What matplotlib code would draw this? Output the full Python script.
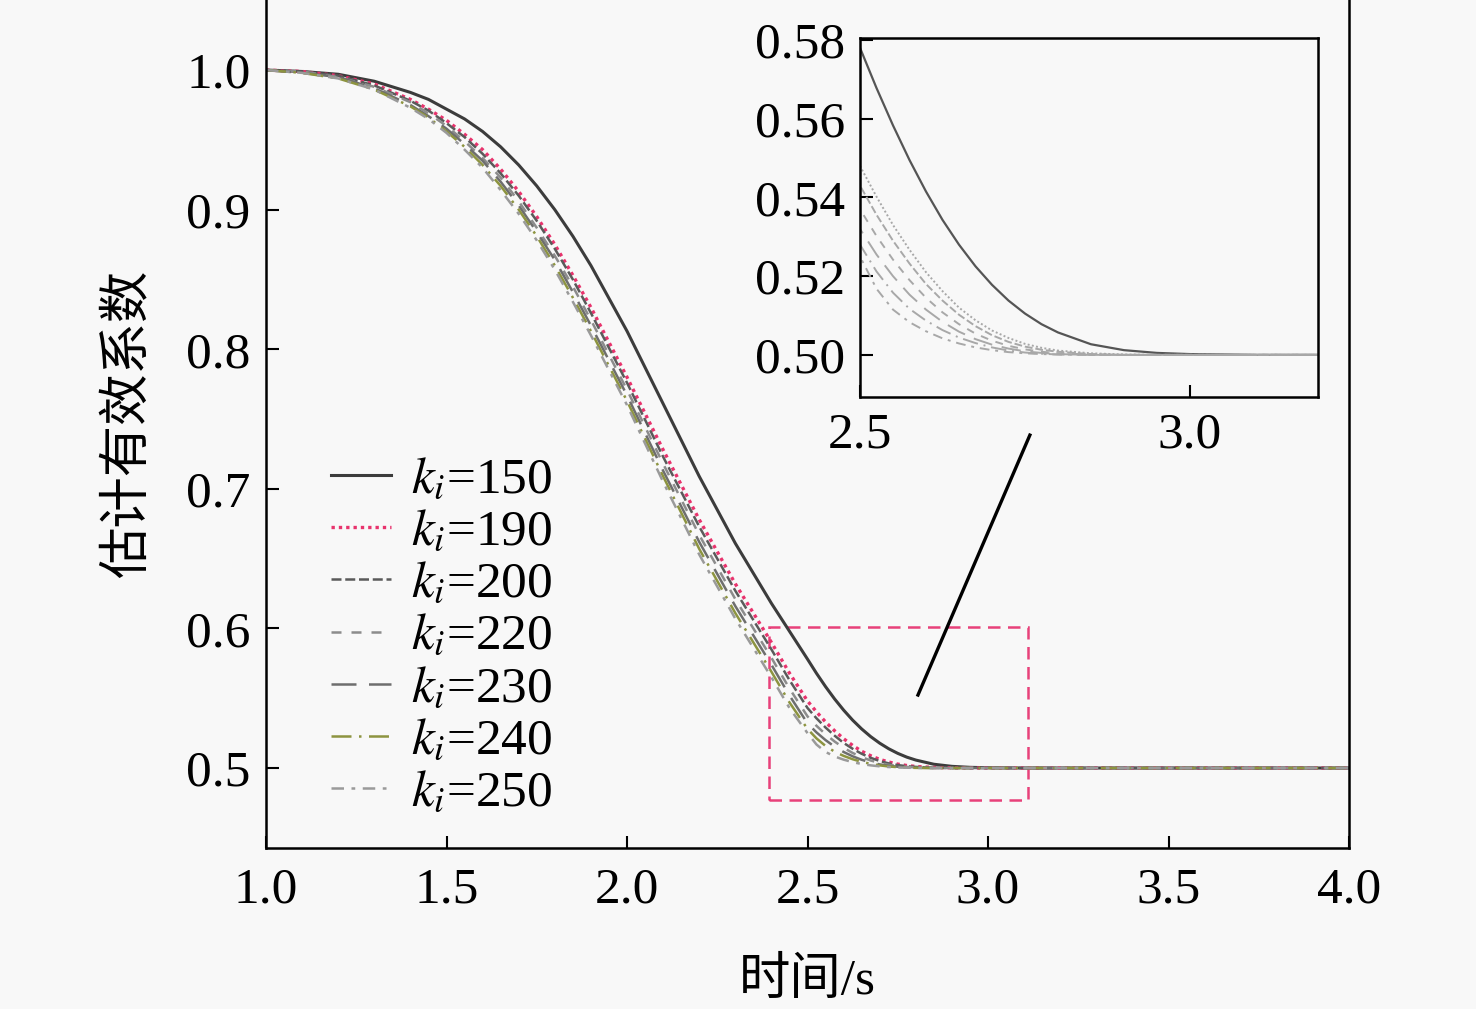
import numpy as np
import matplotlib
matplotlib.use("Agg")
import matplotlib.pyplot as plt
from matplotlib.patches import Rectangle

plt.rcParams['font.family'] = ['Liberation Serif', 'Noto Sans CJK SC']
plt.rcParams['mathtext.fontset'] = 'stix'

# time axis (s) and estimated coefficient for each k_i
t = [1.0, 1.1, 1.2, 1.3, 1.4, 1.45, 1.5, 1.55, 1.6, 1.65, 1.7, 1.75, 1.8, 1.85, 1.9,
     2.0, 2.1, 2.2, 2.3, 2.4, 2.45,
     2.5, 2.525, 2.55, 2.575, 2.6, 2.625, 2.65, 2.675, 2.7, 2.725, 2.75, 2.775, 2.8,
     2.85, 2.9, 2.95, 3.0, 3.1, 3.2, 4.0]

k150 = [1.000, 0.999, 0.997, 0.992, 0.984, 0.979, 0.972, 0.965, 0.956, 0.945, 0.932,
        0.917, 0.900, 0.881, 0.860,
        0.813, 0.761, 0.709, 0.661, 0.618, 0.598,
        0.578, 0.5678, 0.5583, 0.5495, 0.5415, 0.5343, 0.5280, 0.5225, 0.5178, 0.5138,
        0.5105, 0.5078, 0.5057, 0.5027, 0.5012, 0.5005, 0.5002, 0.5, 0.5, 0.5]
k190 = [1.000, 0.999, 0.996, 0.990, 0.979, 0.972, 0.964, 0.954, 0.943, 0.929, 0.913,
        0.895, 0.875, 0.853, 0.830,
        0.780, 0.728, 0.678, 0.632, 0.590, 0.568,
        0.548, 0.5402, 0.533, 0.5267, 0.521, 0.5162, 0.512, 0.5088, 0.5062, 0.5043,
        0.5028, 0.5018, 0.5011, 0.5004, 0.5001, 0.5, 0.5, 0.5, 0.5, 0.5]
k200 = [1.000, 0.999, 0.996, 0.989, 0.978, 0.971, 0.962, 0.952, 0.940, 0.926, 0.910,
        0.892, 0.872, 0.850, 0.826,
        0.776, 0.723, 0.673, 0.627, 0.585, 0.563,
        0.543, 0.5356, 0.529, 0.5232, 0.518, 0.5138, 0.5102, 0.5073, 0.505, 0.5033,
        0.5021, 0.5013, 0.5008, 0.5002, 0.5, 0.5, 0.5, 0.5, 0.5, 0.5]
k220 = [1.000, 0.999, 0.995, 0.988, 0.977, 0.969, 0.960, 0.949, 0.937, 0.923, 0.906,
        0.887, 0.867, 0.845, 0.821,
        0.771, 0.718, 0.667, 0.621, 0.579, 0.557,
        0.537, 0.5302, 0.5242, 0.519, 0.5145, 0.5108, 0.5078, 0.5054, 0.5036, 0.5023,
        0.5014, 0.5008, 0.5004, 0.5001, 0.5, 0.5, 0.5, 0.5, 0.5, 0.5]
k230 = [1.000, 0.998, 0.995, 0.987, 0.975, 0.967, 0.958, 0.947, 0.935, 0.920, 0.903,
        0.884, 0.864, 0.841, 0.817,
        0.767, 0.713, 0.662, 0.616, 0.574, 0.552,
        0.532, 0.5255, 0.520, 0.5153, 0.5115, 0.5084, 0.5059, 0.504, 0.5026, 0.5016,
        0.5009, 0.5005, 0.5002, 0.5, 0.5, 0.5, 0.5, 0.5, 0.5, 0.5]
k240 = [1.000, 0.998, 0.994, 0.986, 0.974, 0.966, 0.956, 0.945, 0.932, 0.917, 0.900,
        0.881, 0.860, 0.837, 0.813,
        0.763, 0.709, 0.657, 0.611, 0.569, 0.547,
        0.528, 0.5212, 0.5158, 0.5117, 0.5087, 0.5063, 0.5044, 0.503, 0.5019, 0.5011,
        0.5006, 0.5003, 0.5001, 0.5, 0.5, 0.5, 0.5, 0.5, 0.5, 0.5]
k250 = [1.000, 0.998, 0.994, 0.986, 0.973, 0.965, 0.955, 0.943, 0.930, 0.914, 0.897,
        0.878, 0.857, 0.834, 0.810,
        0.760, 0.705, 0.653, 0.607, 0.565, 0.543,
        0.525, 0.5168, 0.5115, 0.5083, 0.506, 0.5042, 0.5029, 0.5019, 0.5012, 0.5007,
        0.5004, 0.5002, 0.5001, 0.5, 0.5, 0.5, 0.5, 0.5, 0.5, 0.5]

labels = ['150', '190', '200', '220', '230', '240', '250']
series = [k150, k190, k200, k220, k230, k240, k250]
colors = ['#3c3c3c', '#e8336d', '#5a5a5a', '#8c8c8c', '#6e6e6e', '#8d9440', '#9a9a9a']
styles = ['-', (0, (1, 1.2)), (0, (4, 1.5)), (0, (4, 4)), (0, (10, 5)),
          (0, (8, 3, 1, 3)), (0, (5, 3, 1.5, 3))]
widths = [2.2, 2.4, 1.8, 1.8, 1.8, 1.8, 1.8]

bg = '#f8f8f8'
fig = plt.figure(figsize=(14.76, 10.09), dpi=100, facecolor=bg)
W, H = 1476, 1009
ax = fig.add_axes([266 / W, (H - 848) / H, (1349 - 266) / W, 848 / H], facecolor=bg)

for y, lab, c, ls, lw in zip(series, labels, colors, styles, widths):
    ax.plot(t, y, color=c, linestyle=ls, linewidth=lw, label=r'$k_i$=' + lab)

ax.set_xlim(1.0, 4.0)
ax.set_ylim(0.4427, 1.0502)
ax.set_xticks([1.0, 1.5, 2.0, 2.5, 3.0, 3.5, 4.0])
ax.set_yticks([0.5, 0.6, 0.7, 0.8, 0.9, 1.0])
ax.set_xticklabels(['%.1f' % v for v in ax.get_xticks()])
ax.set_yticklabels(['%.1f' % v for v in ax.get_yticks()])
ax.tick_params(direction='in', length=9, width=1.5, labelsize=37, pad=11)
ax.tick_params(axis='x', pad=14)
for s in ax.spines.values():
    s.set_linewidth(1.8)
ax.spines['top'].set_visible(False)

ax.set_xlabel('时间/s', fontsize=37, labelpad=32)
ax.set_ylabel('估计有效系数', fontsize=37, labelpad=24)

leg = ax.legend(loc='upper left', bbox_to_anchor=(0.041, 0.485), frameon=False,
                fontsize=37, handlelength=1.17, handletextpad=0.39,
                labelspacing=0.1, borderaxespad=0)

# zoom box and connector
ax.add_patch(Rectangle((2.393, 0.477), 0.718, 0.124, fill=False,
                       edgecolor='#e8417a', linestyle=(0, (5, 3)), linewidth=1.8))
ax.plot([2.806, 3.116], [0.5523, 0.7385], color='black', linewidth=2.4)

# inset
axi = fig.add_axes([860 / W, (H - 397) / H, 458 / W, 359 / H], facecolor=bg)
for y, c, ls in zip(series, colors, styles):
    if c == colors[0]:
        axi.plot(t, y, color='#555555', linestyle='-', linewidth=1.6)
    else:
        axi.plot(t, y, color='#a8a8a8', linestyle=ls, linewidth=1.4)
axi.set_xlim(2.5, 3.194)
axi.set_ylim(0.4893, 0.5805)
axi.set_xticks([2.5, 3.0])
axi.set_xticklabels(['2.5', '3.0'])
axi.set_yticks([0.50, 0.52, 0.54, 0.56, 0.58])
axi.set_yticklabels(['%.2f' % v for v in axi.get_yticks()])
axi.tick_params(direction='in', length=9, width=1.5, labelsize=37, pad=11)
for s in axi.spines.values():
    s.set_linewidth(1.8)

fig.savefig('out.png', dpi=100, facecolor=bg)
